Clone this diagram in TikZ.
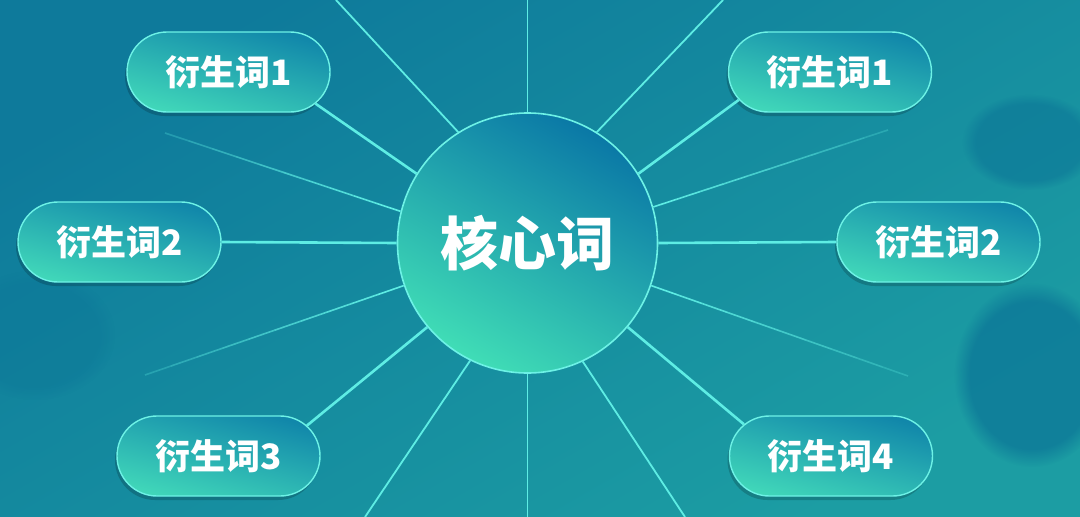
\documentclass[tikz,border=0pt]{standalone}
\usepackage{fontspec}
\newfontfamily\cjk{Noto Sans CJK SC}
\usetikzlibrary{shapes.misc,calc,fadings,shadows}
\definecolor{bgtop}{HTML}{0E7A9B}
\definecolor{bgbot}{HTML}{1C9DA3}
\definecolor{raycol}{HTML}{5EEDE4}
\definecolor{edgecol}{HTML}{6DF2E6}
\definecolor{ctop}{HTML}{0A78A6}
\definecolor{cbot}{HTML}{40DDB6}
\definecolor{ptop}{HTML}{1187AA}
\definecolor{pbot}{HTML}{40D6B9}
\definecolor{blobcol}{HTML}{0A7196}
\begin{document}
\begin{tikzpicture}[x=1pt,y=-1pt,
  pill/.style={rounded rectangle, minimum width=203pt, minimum height=80pt, inner sep=0pt,
    draw=edgecol, line width=1.4pt, top color=ptop, bottom color=pbot, shading angle=-15,
    text=white, font=\cjk\bfseries\fontsize{35}{35}\selectfont,
    drop shadow={opacity=0.18, shadow xshift=-2pt, shadow yshift=-4pt, fill=black}},
  core/.style={circle, minimum size=260pt, inner sep=0pt, draw=edgecol, line width=1.6pt,
    top color=ctop, bottom color=cbot, shading angle=-30,
    text=white, font=\cjk\bfseries\fontsize{58}{58}\selectfont},
  link/.style={draw=raycol, line width=2.6pt},
  ray/.style={draw=raycol, line width=1.8pt},
  fray/.style={draw=raycol, line width=1.6pt}]
\useasboundingbox (0,0) rectangle (1080,517);
\shade[top color=bgtop, bottom color=bgbot, shading angle=30] (0,0) rectangle (1080,517);
% soft background blobs
\fill[blobcol, opacity=0.5, path fading=circle with fuzzy edge 20 percent] (1030,142) ellipse [x radius=68, y radius=48];
\fill[blobcol, opacity=0.65, path fading=circle with fuzzy edge 20 percent] (1032,375) ellipse [x radius=78, y radius=92];
\fill[blobcol, opacity=0.3, path fading=circle with fuzzy edge 20 percent] (35,335) ellipse [x radius=80, y radius=65];

% nodes
\node[core] (core) at (527.5,243) {核心词};
\node[pill] (p1L) at (228.5,72) {衍生词1};
\node[pill] (p2L) at (119.5,242) {衍生词2};
\node[pill] (p3L) at (218.5,456) {衍生词3};
\node[pill] (p1R) at (830,72) {衍生词1};
\node[pill] (p2R) at (938.5,242) {衍生词2};
\node[pill] (p4R) at (831,456) {衍生词4};

% free ray ends
\coordinate (eUp) at (527.5,0);
\coordinate (eDown) at (527.5,517);
\coordinate (eUL) at (336,0);
\coordinate (eUR) at (723,0);
\coordinate (eLL) at (365,517);
\coordinate (eLR) at (685,517);
\coordinate (eUL2) at (165,133);
\coordinate (eUR2) at (888,130);
\coordinate (eLL2) at (145,375);
\coordinate (eLR2) at (908,376);

% connectors to pills
\draw[link] (core.148.6) -- (p1L.-20);
\draw[link] (core.west) -- (p2L.east);
\draw[link] (core.220.2) -- (p3L.19);
\draw[link] (core.32.7) -- (p1R.197);
\draw[link] (core.east) -- (p2R.west);
\draw[link] (core.-40.2) -- (p4R.160);

% free rays
\draw[ray] (core.90) -- (eUp);
\draw[ray] (core.270) -- (eDown);
\draw[ray] (core.122.5) -- (eUL);
\draw[ray] (core.58) -- (eUR);
\draw[ray] (core.244.4) -- (eLL);
\draw[ray] (core.-65.2) -- (eLR);

% fading rays
\foreach \a/\b in {166.1/eUL2, 16.3/eUR2, 199/eLL2, -19.5/eLR2}{
  \foreach \i in {0,...,9}{
    \pgfmathsetmacro{\op}{1-\i*0.08}
    \draw[fray, draw opacity=\op] ($(core.\a)!{\i/10}!(\b)$) -- ($(core.\a)!{(\i+1)/10}!(\b)$);
  }
}
\end{tikzpicture}
\end{document}
